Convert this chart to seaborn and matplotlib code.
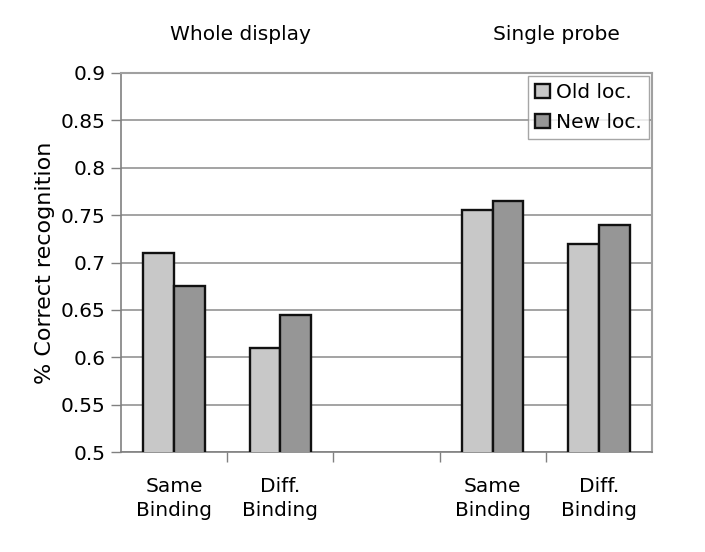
import pandas as pd
import matplotlib.pyplot as plt
import seaborn as sns
from matplotlib.ticker import FixedLocator

# Values
conditions = ['wd_same', 'wd_diff', 'gap', 'sp_same', 'sp_diff']
tick_labels = ['Same\nBinding', 'Diff.\nBinding', '', 'Same\nBinding', 'Diff.\nBinding']
bar_conditions = ['wd_same', 'wd_diff', 'sp_same', 'sp_diff']
old_loc = [0.71, 0.61, 0.755, 0.72]
new_loc = [0.675, 0.645, 0.765, 0.74]
series = ['Old loc.', 'New loc.']

df = pd.DataFrame({
    'condition': bar_conditions * 2,
    'location': [series[0]] * 4 + [series[1]] * 4,
    'score': old_loc + new_loc,
})

sns.set_style('white')
plt.rcParams['font.family'] = ['DejaVu Sans']
plt.rcParams['text.color'] = 'black'
plt.rcParams['xtick.color'] = 'black'
plt.rcParams['ytick.color'] = 'black'
plt.rcParams['axes.labelcolor'] = 'black'

fig = plt.figure(figsize=(7.05, 5.52), dpi=100)
ax = fig.add_axes([121 / 705, 1 - 452 / 552, 531 / 705, 379 / 552])

sns.barplot(data=df, x='condition', y='score', hue='location', order=conditions,
            hue_order=series, palette=['#c8c8c8', '#969696'], width=0.58, gap=0,
            edgecolor='#111111', linewidth=1.7, saturation=1, ax=ax, zorder=3)

ax.set_ylim(0.5, 0.9)
ax.set_xlim(-0.5, 4.5)
ax.set_yticks([0.5, 0.55, 0.6, 0.65, 0.7, 0.75, 0.8, 0.85, 0.9])
ax.set_yticklabels(['0.5', '0.55', '0.6', '0.65', '0.7', '0.75', '0.8', '0.85', '0.9'])
ax.yaxis.grid(True, color='#8a8a8a', linewidth=1.1, zorder=0)
ax.tick_params(axis='y', labelsize=14.5, length=7, width=1, color='#808080', left=True, pad=4)

ax.set_xticks(range(5))
ax.set_xticklabels(tick_labels, fontsize=14.5, linespacing=1.35)
ax.tick_params(axis='x', which='major', length=0, pad=18)
ax.xaxis.set_minor_locator(FixedLocator([0.5, 1.5, 2.5, 3.5]))
ax.tick_params(axis='x', which='minor', bottom=True, length=7, width=1, color='#808080')

ax.set_xlabel('')
ax.set_ylabel('% Correct recognition', fontsize=16, labelpad=4)

for side in ['left', 'bottom']:
    ax.spines[side].set_color('#808080')
    ax.spines[side].set_linewidth(1.2)
for side in ['top', 'right']:
    ax.spines[side].set_color('#a0a0a0')
    ax.spines[side].set_linewidth(1.5)

leg = ax.legend(loc='upper right', fontsize=14.5, frameon=True, fancybox=False,
                borderaxespad=0.15, handlelength=0.75, handleheight=0.75,
                handletextpad=0.3, labelspacing=0.55, borderpad=0.35)
leg.get_frame().set_edgecolor('#909090')
leg.get_frame().set_linewidth(1)

fig.text(240 / 705, 1 - 35 / 552, 'Whole display', fontsize=14.5, ha='center', va='center')
fig.text(556 / 705, 1 - 35 / 552, 'Single probe', fontsize=14.5, ha='center', va='center')

fig.savefig('out.png', dpi=100, facecolor='white')
